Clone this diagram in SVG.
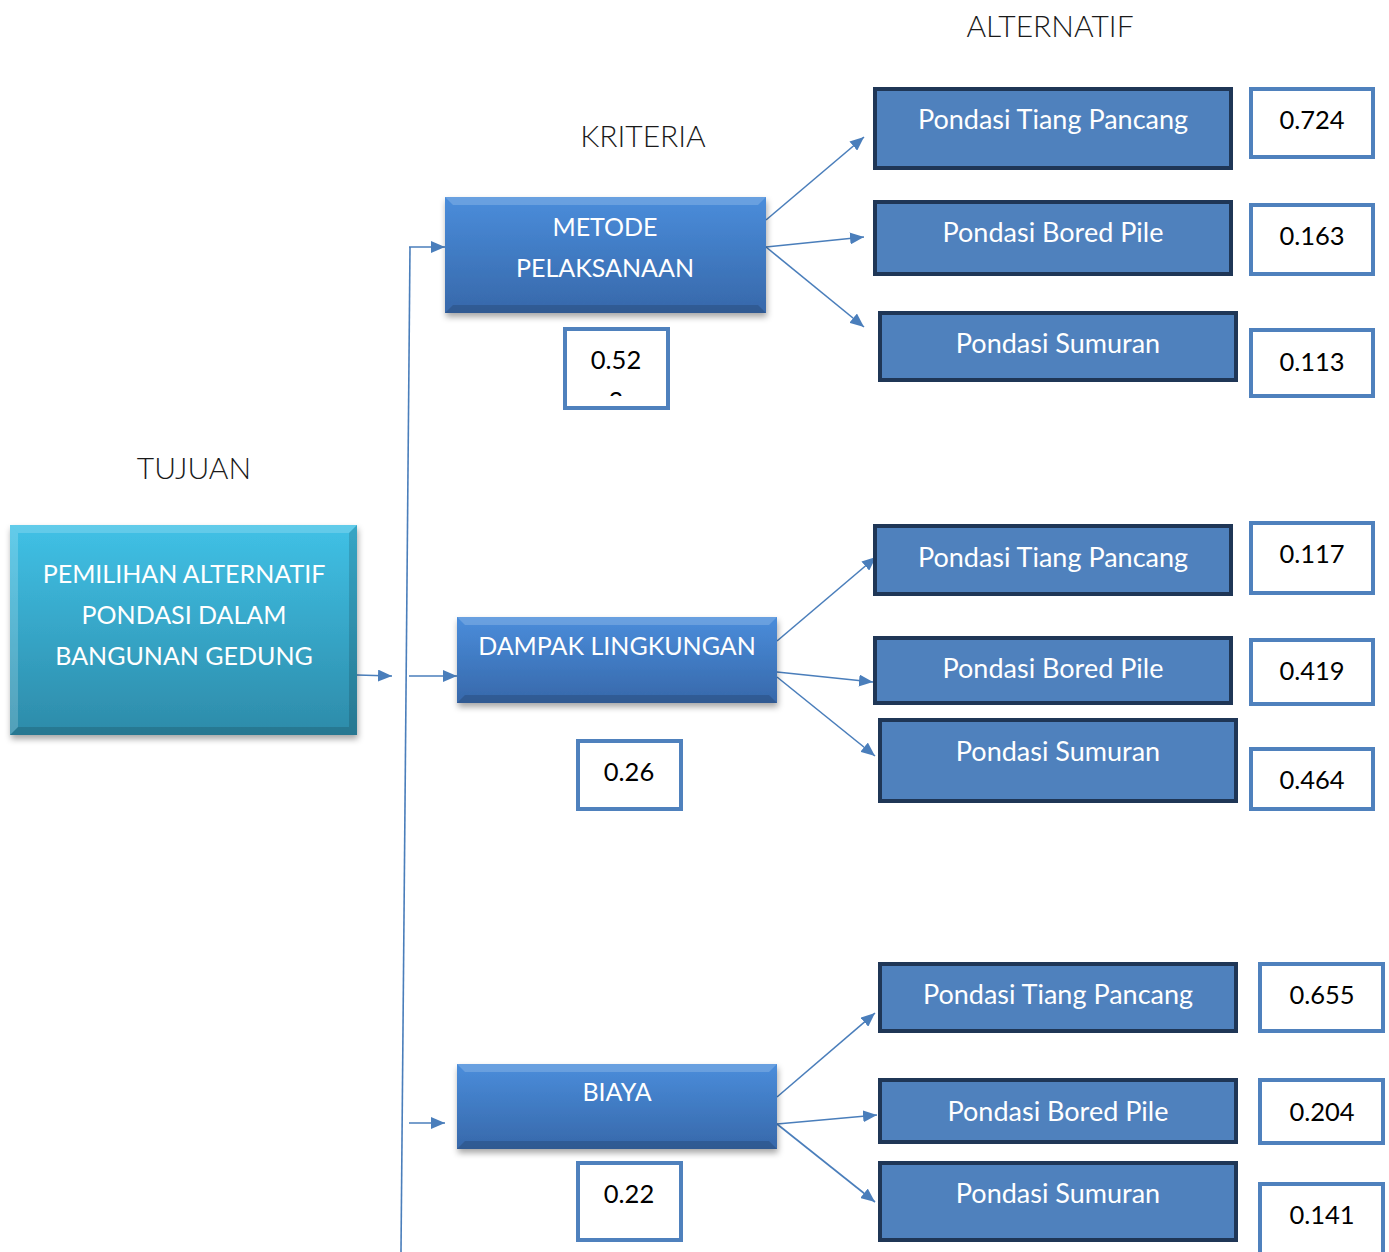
<svg xmlns="http://www.w3.org/2000/svg" width="1389" height="1252" viewBox="0 0 1389 1252">
<style>
text{font-family:Lato,"Open Sans","Liberation Sans",sans-serif}
.hdr{font-size:30px;font-weight:300;fill:#1a1a1a;text-anchor:middle}
.wt{font-size:25px;fill:#ffffff;text-anchor:middle}
.at{font-size:27px;fill:#ffffff;text-anchor:middle}
.val{font-size:25.5px;fill:#000000;text-anchor:middle}
.alt{fill:#4f81bd;stroke:#1f3656;stroke-width:4}
.vbox{fill:#ffffff;stroke:#4f81bd;stroke-width:4}
.conn line{stroke:#4a7ebb;stroke-width:1.6}
.bevL{fill:#ffffff;opacity:0.18}
.bevD{fill:#000000;opacity:0.14}
</style>
<defs>
<marker id="ah" viewBox="0 0 14 12" refX="14" refY="6" markerWidth="14" markerHeight="12" markerUnits="userSpaceOnUse" orient="auto">
<path d="M0,0 L14,6 L0,12 z" fill="#4a7ebb"/>
</marker>
<linearGradient id="gBlue" x1="0" y1="0" x2="0" y2="1">
<stop offset="0" stop-color="#4a8ddb"/>
<stop offset="1" stop-color="#3768aa"/>
</linearGradient>
<linearGradient id="gCyan" x1="0" y1="0" x2="0" y2="1">
<stop offset="0" stop-color="#40c1e6"/>
<stop offset="1" stop-color="#2d8ba9"/>
</linearGradient>
<filter id="sh" x="-10%" y="-10%" width="125%" height="130%">
<feDropShadow dx="1" dy="4" stdDeviation="3" flood-color="#000" flood-opacity="0.35"/>
</filter>
<clipPath id="clip052"><rect x="567" y="331" width="99" height="65"/></clipPath>
</defs>

<text class="hdr" x="1050" y="37">ALTERNATIF</text>
<text class="hdr" x="643" y="147">KRITERIA</text>
<text class="hdr" x="194" y="479">TUJUAN</text>

<g class="conn">
<line x1="357" y1="675" x2="392" y2="676" marker-end="url(#ah)"/>
<line x1="410" y1="247" x2="401" y2="1252"/>
<line x1="409" y1="247" x2="445" y2="247" marker-end="url(#ah)"/>
<line x1="409" y1="676" x2="457" y2="676" marker-end="url(#ah)"/>
<line x1="409" y1="1123" x2="445" y2="1123" marker-end="url(#ah)"/>
<line x1="766" y1="220" x2="864" y2="137" marker-end="url(#ah)"/>
<line x1="766" y1="247" x2="864" y2="237" marker-end="url(#ah)"/>
<line x1="766" y1="247" x2="864" y2="327" marker-end="url(#ah)"/>
<line x1="777" y1="641" x2="876" y2="557" marker-end="url(#ah)"/>
<line x1="777" y1="672" x2="873" y2="682" marker-end="url(#ah)"/>
<line x1="777" y1="677" x2="875" y2="756" marker-end="url(#ah)"/>
<line x1="777" y1="1097" x2="875" y2="1013" marker-end="url(#ah)"/>
<line x1="777" y1="1124" x2="877" y2="1115" marker-end="url(#ah)"/>
<line x1="777" y1="1124" x2="875" y2="1202" marker-end="url(#ah)"/>
</g>

<g id="goal">
<rect x="10" y="525" width="347" height="210" fill="url(#gCyan)" filter="url(#sh)"/>
<polygon class="bevL" points="10,525 357,525 349,533 18,533"/>
<polygon class="bevD" points="10,735 357,735 349,727 18,727"/>
<polygon class="bevD" points="357,525 357,735 349,727 349,533" opacity="0.1"/>
<polygon class="bevL" points="10,525 10,735 18,727 18,533" opacity="0.1"/>
<text class="wt" x="184" y="583">PEMILIHAN ALTERNATIF</text>
<text class="wt" x="184" y="624">PONDASI DALAM</text>
<text class="wt" x="184" y="665">BANGUNAN GEDUNG</text>
</g>

<g id="metode">
<rect x="445" y="197" width="321" height="116" fill="url(#gBlue)" filter="url(#sh)"/>
<polygon class="bevL" points="445,197 766,197 758,205 453,205"/>
<polygon class="bevD" points="445,313 766,313 758,305 453,305"/>
<text class="wt" x="605" y="236">METODE</text>
<text class="wt" x="605" y="277">PELAKSANAAN</text>
</g>
<g id="metode-val">
<rect class="vbox" x="565" y="329" width="103" height="79"/>
<g clip-path="url(#clip052)">
<text class="val" x="616" y="369">0.52</text>
<text class="val" x="616" y="410">3</text>
</g>
</g>

<g id="dampak">
<rect x="457" y="617" width="320" height="86" fill="url(#gBlue)" filter="url(#sh)"/>
<polygon class="bevL" points="457,617 777,617 769,625 465,625"/>
<polygon class="bevD" points="457,703 777,703 769,695 465,695"/>
<text class="wt" x="617" y="655">DAMPAK LINGKUNGAN</text>
</g>
<g id="dampak-val">
<rect class="vbox" x="578" y="741" width="103" height="68"/>
<text class="val" x="629" y="781">0.26</text>
</g>

<g id="biaya">
<rect x="457" y="1064" width="320" height="85" fill="url(#gBlue)" filter="url(#sh)"/>
<polygon class="bevL" points="457,1064 777,1064 769,1072 465,1072"/>
<polygon class="bevD" points="457,1149 777,1149 769,1141 465,1141"/>
<text class="wt" x="617" y="1101">BIAYA</text>
</g>
<g id="biaya-val">
<rect class="vbox" x="578" y="1163" width="103" height="77"/>
<text class="val" x="629" y="1203">0.22</text>
</g>

<g id="a1">
<rect class="alt" x="875" y="89" width="356" height="79"/>
<text class="at" x="1053" y="129">Pondasi Tiang Pancang</text>
</g>
<g id="a2">
<rect class="alt" x="875" y="202" width="356" height="72"/>
<text class="at" x="1053" y="242">Pondasi Bored Pile</text>
</g>
<g id="a3">
<rect class="alt" x="880" y="313" width="356" height="67"/>
<text class="at" x="1058" y="353">Pondasi Sumuran</text>
</g>
<g id="v1"><rect class="vbox" x="1251" y="89" width="122" height="68"/><text class="val" x="1312" y="129">0.724</text></g>
<g id="v2"><rect class="vbox" x="1251" y="205" width="122" height="69"/><text class="val" x="1312" y="245">0.163</text></g>
<g id="v3"><rect class="vbox" x="1251" y="330" width="122" height="66"/><text class="val" x="1312" y="371">0.113</text></g>

<g id="b1">
<rect class="alt" x="875" y="526" width="356" height="68"/>
<text class="at" x="1053" y="567">Pondasi Tiang Pancang</text>
</g>
<g id="b2">
<rect class="alt" x="875" y="638" width="356" height="65"/>
<text class="at" x="1053" y="678">Pondasi Bored Pile</text>
</g>
<g id="b3">
<rect class="alt" x="880" y="720" width="356" height="81"/>
<text class="at" x="1058" y="761">Pondasi Sumuran</text>
</g>
<g id="w1"><rect class="vbox" x="1251" y="523" width="122" height="70"/><text class="val" x="1312" y="563">0.117</text></g>
<g id="w2"><rect class="vbox" x="1251" y="640" width="122" height="64"/><text class="val" x="1312" y="680">0.419</text></g>
<g id="w3"><rect class="vbox" x="1251" y="749" width="122" height="60"/><text class="val" x="1312" y="789">0.464</text></g>

<g id="c1">
<rect class="alt" x="880" y="964" width="356" height="67"/>
<text class="at" x="1058" y="1004">Pondasi Tiang Pancang</text>
</g>
<g id="c2">
<rect class="alt" x="880" y="1080" width="356" height="62"/>
<text class="at" x="1058" y="1121">Pondasi Bored Pile</text>
</g>
<g id="c3">
<rect class="alt" x="880" y="1163" width="356" height="77"/>
<text class="at" x="1058" y="1203">Pondasi Sumuran</text>
</g>
<g id="x1"><rect class="vbox" x="1260" y="964" width="123" height="67"/><text class="val" x="1322" y="1004">0.655</text></g>
<g id="x2"><rect class="vbox" x="1260" y="1080" width="123" height="63"/><text class="val" x="1322" y="1121">0.204</text></g>
<g id="x3"><rect class="vbox" x="1260" y="1184" width="123" height="72"/><text class="val" x="1322" y="1224">0.141</text></g>
</svg>
